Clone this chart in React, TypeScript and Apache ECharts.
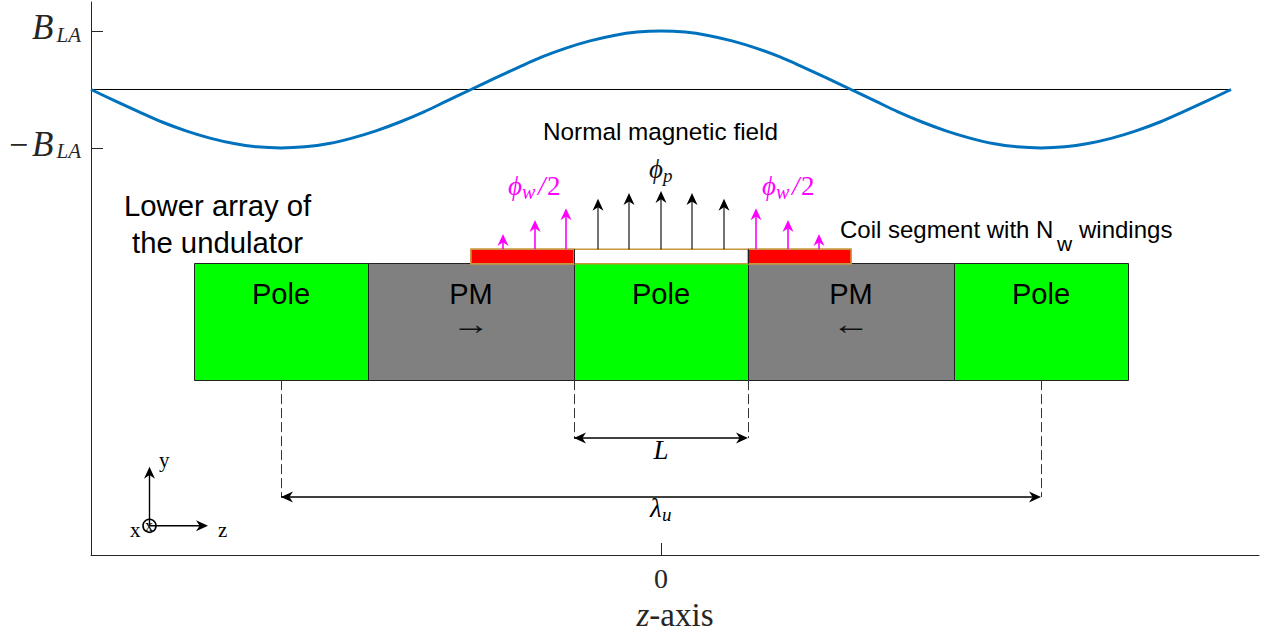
import React, { useEffect, useRef } from "react";
import * as echarts from "echarts";

// Field curve: z position and normalised normal field
const curveZ = [-570,-546,-522,-499,-475,-451,-427,-404,-380,-356,-332,-309,-285,-261,-237,-214,-190,-166,-142,-119,-95,-71,-47,-24,0,24,47,71,95,119,142,166,190,214,237,261,285,309,332,356,380,404,427,451,475,499,522,546,570];
const curveB = [0,-0.195,-0.383,-0.556,-0.707,-0.831,-0.924,-0.981,-1,-0.981,-0.924,-0.831,-0.707,-0.556,-0.383,-0.195,0,0.195,0.383,0.556,0.707,0.831,0.924,0.981,1,0.981,0.924,0.831,0.707,0.556,0.383,0.195,0,-0.195,-0.383,-0.556,-0.707,-0.831,-0.924,-0.981,-1,-0.981,-0.924,-0.831,-0.707,-0.556,-0.383,-0.195,0];
const zeroLineZ = [-570, 570];

// Magnet array
const blockEdges = [-467, -293, -87, 87, 293, 467];
const blockKinds = ["Pole", "PM", "Pole", "PM", "Pole"];
const blockY = [-2.98, -4.97];

// Coil
const coilSpans = [[-190, -87], [87, 190]];
const coilY = [-2.73, -2.98];

// Flux arrows
const blackZ = [-63, -32, 0, 31, 63];
const blackTip = [-1.87, -1.77, -1.735, -1.77, -1.87];
const magentaZ = [-158, -126, -95, 95, 127, 158];
const magentaTip = [-2.47, -2.23, -2.03, -2.03, -2.23, -2.47];

// Dimensions: [z0, z1, y]
const dimensions = [[-87, 87, -5.96], [-380, 380, -6.97]];
const triadOrigin = [-511.5, -7.46];
const triadTips = [[-511.5, -6.45], [-453, -7.46]];

const BLUE = "#0072BD";
const AX = "#262626";
const TAN = "#C8963C";
const MAG = "#FF00FF";
const SERIF = "Liberation Serif";
const SANS = "Liberation Sans";

function arrowChildren(api: any, a: number[], b: number[], both: boolean, color: string, lw: number, L = 12, W = 11) {
  const p0 = api.coord(a);
  const p1 = api.coord(b);
  const len = Math.hypot(p1[0] - p0[0], p1[1] - p0[1]);
  const d = [(p1[0] - p0[0]) / len, (p1[1] - p0[1]) / len];
  const n = [-d[1], d[0]];
  const head = (t: number[], s: number) => ({
    type: "polygon",
    shape: {
      points: [
        t,
        [t[0] - s * d[0] * L + n[0] * W / 2, t[1] - s * d[1] * L + n[1] * W / 2],
        [t[0] - s * d[0] * L * 0.7, t[1] - s * d[1] * L * 0.7],
        [t[0] - s * d[0] * L - n[0] * W / 2, t[1] - s * d[1] * L - n[1] * W / 2],
      ],
    },
    style: { fill: color },
  });
  const kids: any[] = [
    { type: "line", shape: { x1: p0[0], y1: p0[1], x2: p1[0] - d[0] * L * 0.6, y2: p1[1] - d[1] * L * 0.6 }, style: { stroke: color, lineWidth: lw } },
    head(p1, 1),
  ];
  if (both) kids.push(head(p0, -1));
  return kids;
}

const customBase = { type: "custom", coordinateSystem: "cartesian2d", silent: true, clip: false };

function T(text: string, x: number, baseline: number, size: number, font = SANS, opt: any = {}) {
  return {
    type: "text",
    x,
    y: baseline - 0.3465 * size,
    z: 100,
    silent: true,
    scaleX: opt.scaleX || 1,
    style: {
      text,
      fontFamily: font,
      fontSize: size,
      fontStyle: opt.italic ? "italic" : "normal",
      fill: opt.color || "#000",
      textAlign: opt.align || "left",
      textVerticalAlign: "middle",
    },
  };
}

export default function App() {
  const ref = useRef<HTMLDivElement>(null);
  useEffect(() => {
    const chart = echarts.init(ref.current!, undefined, { renderer: "svg" });
    const option: any = {
      animation: false,
      backgroundColor: "#fff",
      grid: { left: 91, right: 8, top: 2, bottom: 79, containLabel: false, outerBoundsMode: "none" },
      xAxis: {
        type: "value",
        min: -570,
        max: 598,
        splitLine: { show: false },
        axisLine: { onZero: false, lineStyle: { color: AX, width: 1 } },
        axisTick: { inside: true, length: 12, customValues: [0], lineStyle: { color: AX, width: 1 } },
        axisLabel: { customValues: [0], color: AX, fontFamily: SERIF, fontSize: 28, margin: 9 },
        name: "{i|z}{r|-axis}",
        nameLocation: "middle",
        nameGap: 45,
        nameTextStyle: {
          rich: {
            i: { fontFamily: SERIF, fontStyle: "italic", fontSize: 33, lineHeight: 30, color: AX },
            r: { fontFamily: SERIF, fontSize: 33, lineHeight: 30, color: AX },
          },
        },
      },
      yAxis: {
        type: "value",
        min: -7.96,
        max: 1.496,
        splitLine: { show: false },
        axisLine: { onZero: false, lineStyle: { color: AX, width: 1 } },
        axisTick: { inside: true, length: 12, customValues: [-1, 1], lineStyle: { color: AX, width: 1 } },
        axisLabel: {
          customValues: [-1, 1],
          margin: 10,
          padding: [0, 0, 7, 0],
          formatter: (v: number) => (v < 0 ? "{m|\u2212}{i|B}{s|LA}" : "{i|B}{s|LA}"),
          rich: {
            m: { fontFamily: SERIF, fontSize: 34, color: AX, padding: [0, 4, 0, 0] },
            i: { fontFamily: SERIF, fontStyle: "italic", fontSize: 35, color: AX, padding: [0, 3, 0, 0] },
            s: { fontFamily: SERIF, fontStyle: "italic", fontSize: 21, color: AX, verticalAlign: "bottom", lineHeight: 14, padding: [10, 0, 0, 0] },
          },
        },
      },
      series: [
        {
          ...customBase,
          data: blockKinds.map((k, i) => [blockEdges[i], blockEdges[i + 1], k === "Pole" ? 0 : 1]),
          encode: { x: [0, 1] },
          renderItem: (_: any, api: any) => {
            const a = api.coord([api.value(0), blockY[0]]);
            const b = api.coord([api.value(1), blockY[1]]);
            return {
              type: "rect",
              shape: { x: Math.round(a[0]) + 0.5, y: Math.round(a[1]) - 0.5, width: Math.round(b[0] - a[0]), height: Math.round(b[1] - a[1]) + 1 },
              style: { fill: api.value(2) === 0 ? "#00FF00" : "#808080", stroke: "#222", lineWidth: 1 },
            };
          },
        },
        {
          ...customBase,
          data: [[coilSpans[0][0], coilSpans[1][1]]],
          encode: { x: [0, 1] },
          renderItem: (_: any, api: any) => {
            const a = api.coord([api.value(0), coilY[0]]);
            const b = api.coord([api.value(1), coilY[1]]);
            return {
              type: "rect",
              shape: { x: a[0], y: a[1], width: b[0] - a[0], height: b[1] - a[1] },
              style: { fill: "#fff", stroke: TAN, lineWidth: 1.5 },
            };
          },
        },
        {
          ...customBase,
          data: coilSpans,
          encode: { x: [0, 1] },
          renderItem: (_: any, api: any) => {
            const a = api.coord([api.value(0), coilY[0]]);
            const b = api.coord([api.value(1), coilY[1]]);
            return {
              type: "rect",
              shape: { x: a[0], y: a[1], width: b[0] - a[0], height: b[1] - a[1] },
              style: { fill: "#FF0000", stroke: TAN, lineWidth: 1.5 },
            };
          },
        },
        {
          ...customBase,
          data: [[-87], [87]],
          encode: { x: 0 },
          renderItem: (_: any, api: any) => {
            const a = api.coord([api.value(0), coilY[0]]);
            const b = api.coord([api.value(0), coilY[1]]);
            return { type: "line", shape: { x1: Math.round(a[0]) + 0.5, y1: a[1], x2: Math.round(b[0]) + 0.5, y2: b[1] }, style: { stroke: "#222", lineWidth: 1 } };
          },
        },
        {
          ...customBase,
          data: [[-380, -6.97], [380, -6.97], [-87, -5.96], [87, -5.96]],
          encode: { x: 0, y: 1 },
          renderItem: (_: any, api: any) => {
            const a = api.coord([api.value(0), blockY[1]]);
            const b = api.coord([api.value(0), api.value(1)]);
            return { type: "line", shape: { x1: Math.round(a[0]) + 0.5, y1: a[1], x2: Math.round(b[0]) + 0.5, y2: b[1] }, style: { stroke: "#333", lineWidth: 1, lineDash: [10, 4] } };
          },
        },
        {
          ...customBase,
          data: dimensions,
          encode: { x: [0, 1], y: 2 },
          renderItem: (_: any, api: any) => ({
            type: "group",
            children: arrowChildren(api, [api.value(0), api.value(2)], [api.value(1), api.value(2)], true, "#000", 1.5),
          }),
        },
        {
          ...customBase,
          data: blackZ.map((z, i) => [z, blackTip[i]]),
          encode: { x: 0, y: 1 },
          renderItem: (_: any, api: any) => ({
            type: "group",
            children: arrowChildren(api, [api.value(0), coilY[0]], [api.value(0), api.value(1)], false, "#000", 1.1),
          }),
        },
        {
          ...customBase,
          data: magentaZ.map((z, i) => [z, magentaTip[i]]),
          encode: { x: 0, y: 1 },
          renderItem: (_: any, api: any) => ({
            type: "group",
            children: arrowChildren(api, [api.value(0), coilY[0]], [api.value(0), api.value(1)], false, MAG, 1.6),
          }),
        },
        {
          ...customBase,
          data: triadTips,
          encode: { x: 0, y: 1 },
          renderItem: (_: any, api: any) => ({
            type: "group",
            children: arrowChildren(api, triadOrigin, [api.value(0), api.value(1)], false, "#000", 1.4),
          }),
        },
        {
          ...customBase,
          data: [triadOrigin],
          encode: { x: 0, y: 1 },
          renderItem: (_: any, api: any) => {
            const c = api.coord([api.value(0), api.value(1)]);
            return { type: "circle", shape: { cx: c[0], cy: c[1], r: 6.5 }, style: { fill: "none", stroke: "#000", lineWidth: 1.6 } };
          },
        },
        {
          type: "line",
          data: zeroLineZ.map((z) => [z, 0]),
          showSymbol: false,
          silent: true,
          lineStyle: { color: "#000", width: 1 },
        },
        {
          type: "line",
          data: curveZ.map((z, i) => [z, curveB[i]]),
          showSymbol: false,
          silent: true,
          smooth: 0.33,
          lineStyle: { color: BLUE, width: 3 },
        },
      ],
      graphic: {
        elements: [
          T("Normal magnetic field", 543, 140, 24.3),
          T("\u03D5", 649, 178, 27, SERIF, { italic: true, color: "#111" }),
          T("p", 663, 182, 19, SERIF, { italic: true, color: "#111" }),
          T("\u03D5", 508, 195, 27, SERIF, { italic: true, color: MAG }),
          T("w", 522, 199, 20, SERIF, { italic: true, color: MAG }),
          T("/", 538, 195, 27, SERIF, { italic: true, color: MAG }),
          T("2", 547, 195, 27, SERIF, { color: MAG }),
          T("\u03D5", 762, 195, 27, SERIF, { italic: true, color: MAG }),
          T("w", 776, 199, 20, SERIF, { italic: true, color: MAG }),
          T("/", 792, 195, 27, SERIF, { italic: true, color: MAG }),
          T("2", 801, 195, 27, SERIF, { color: MAG }),
          T("Lower array of", 124, 216, 29.3),
          T("the undulator", 132, 253, 29.3),
          T("Coil segment with N", 840, 238, 24),
          T("w", 1057, 251, 21),
          T("windings", 1079, 238, 24),
          T("Pole", 281, 304, 29, SANS, { align: "center" }),
          T("PM", 471, 304, 29, SANS, { align: "center" }),
          T("Pole", 661, 304, 29, SANS, { align: "center" }),
          T("PM", 851, 304, 29, SANS, { align: "center" }),
          T("Pole", 1041, 304, 29, SANS, { align: "center" }),
          T("\u2192", 471, 334.2, 30, SERIF, { align: "center", color: "#111", scaleX: 1.28 }),
          T("\u2190", 851, 334.2, 30, SERIF, { align: "center", color: "#111", scaleX: 1.28 }),
          T("L", 661, 459, 27, SERIF, { align: "center", italic: true }),
          T("\u03BB", 650, 517, 27, SERIF, { italic: true }),
          T("u", 662, 521, 19, SERIF, { italic: true }),
          T("y", 159, 467, 21, SERIF),
          T("x", 130, 537, 21, SERIF),
          T("x", 145, 531, 16, SERIF),
          T("z", 218, 537, 21, SERIF),
        ],
      },
    };
    chart.setOption(option);
    return () => chart.dispose();
  }, []);
  return <div ref={ref} style={{ position: "fixed", left: 0, top: 0, width: 1267, height: 634 }} />;
}
